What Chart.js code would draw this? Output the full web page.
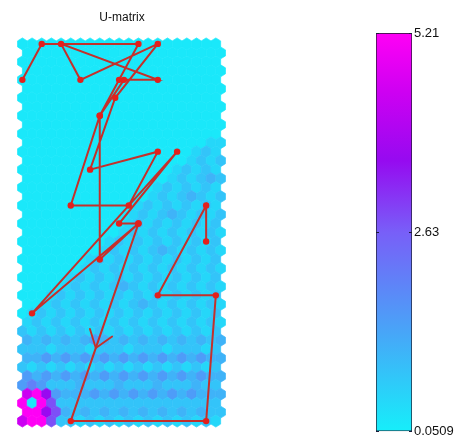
<!DOCTYPE html>
<html>
<head>
<meta charset="utf-8">
<script src="https://cdn.jsdelivr.net/npm/chart.js@4.4.1/dist/chart.umd.min.js"></script>
<style>
  html, body { margin: 0; padding: 0; background: #ffffff; }
  #wrap { position: relative; width: 473px; height: 441px; overflow: hidden; background: #ffffff; }
  #mapBox { position: absolute; left: 0; top: 0; width: 244px; height: 441px; }
  #barBox { position: absolute; left: 330px; top: 0; width: 143px; height: 441px; }
</style>
</head>
<body>
<div id="wrap">
  <div id="mapBox"><canvas id="map" width="244" height="441"></canvas></div>
  <div id="barBox"><canvas id="bar" width="143" height="441"></canvas></div>
</div>
<script>
// U-matrix distance levels; each digit in umatRows picks one of these values
const umatLevelValues = [0.15, 0.45, 0.8, 1.1, 1.5, 2.0, 2.8, 3.6, 4.4, 5.2];

// U-matrix rows (43 rows x 21 columns), written in groups of 7 columns
const umatRows = [
  "0000000 0000000 0000000",
  "0000000 0000000 0000000",
  "0000000 0000000 0000000",
  "0000000 0000000 0000000",
  "0000000 0000000 0000000",
  "0000000 0000000 0000000",
  "0000000 0000000 0000000",
  "0000000 0000000 0000000",
  "0000000 0000000 0000000",
  "0000000 0000000 0000000",
  "0000000 0000000 0000000",
  "0000000 0000000 0000011",
  "0000000 0000000 0000121",
  "0000000 0000000 0001212",
  "0000000 0000000 0012121",
  "0000000 0000000 0121232",
  "0000000 0000000 1212121",
  "0000000 0000001 2123212",
  "0000000 0000012 1212121",
  "0000000 0000121 2321212",
  "0000000 0000121 2121212",
  "0000000 0001212 1212121",
  "0000000 0012121 2121212",
  "0000000 0121212 3212121",
  "0000000 1212121 2121212",
  "0000001 2121212 1212121",
  "0000012 1212121 2121212",
  "0000121 2123212 1212121",
  "0001212 1212121 2121212",
  "0012121 2121232 1212121",
  "0121212 1212121 2121212",
  "1212121 2121212 1212121",
  "2121212 1212121 2121212",
  "3232323 4323232 3232323",
  "2221222 1222122 2122212",
  "3343434 3434343 4343433",
  "2121212 1212121 2121212",
  "4343434 3434343 4343433",
  "4542223 2223222 3222322",
  "8974333 4343434 3434333",
  "9096222 2222222 2222222",
  "9976323 2323232 3232322",
  "8996221 2121212 1212121"
];

// Trajectory of best-matching units, in map coordinates (column, row)
const trajX = [0, 1, 6, 5, 4, 2.5, 5.5, 7, 3.5, 4.8, 7, 3, 2, 7, 5.25, 4, 4, 6, 5, 8, 0.5, 6, 2.5, 9.5, 10, 7, 9.5, 9.5];
const trajY = [2, 0, 0, 2, 4, 9, 9, 6, 7, 3, 0, 2, 0, 2, 2, 4, 12, 10, 10, 6, 15, 10, 21, 21, 14, 14, 9, 11];
// segment (start index) that carries the direction arrow
const arrowSegment = 21;

// Colour bar range and labels
const colorbarMin = 0.0509;
const colorbarMax = 5.21;
const colorbarTicks = [0.0509, 2.63, 5.21];
const colorbarTickLabels = ["0.0509", "2.63", "5.21"];

// Colormap stops: position (0..1) and RGB
const cmapStops = [
  [0.00, [22, 238, 250]],
  [0.25, [72, 165, 248]],
  [0.50, [120, 95, 248]],
  [0.68, [150, 10, 240]],
  [0.85, [205, 0, 242]],
  [1.00, [255, 0, 245]]
];

const FONT = "'Liberation Sans', Arial, Helvetica, sans-serif";
const LINE_COLOR = "#c4302b";
const POINT_COLOR = "#e3201c";

function cmapColor(v) {
  let f = (v - colorbarMin) / (colorbarMax - colorbarMin);
  f = Math.max(0, Math.min(1, f));
  for (let i = 1; i < cmapStops.length; i++) {
    const [p1, c1] = cmapStops[i];
    const [p0, c0] = cmapStops[i - 1];
    if (f <= p1) {
      const t = (f - p0) / (p1 - p0);
      const c = c0.map((a, k) => Math.round(a + (c1[k] - a) * t));
      return `rgb(${c[0]},${c[1]},${c[2]})`;
    }
  }
  const last = cmapStops[cmapStops.length - 1][1];
  return `rgb(${last[0]},${last[1]},${last[2]})`;
}

// numeric table built from the level strings
const umatValues = umatRows.map(row =>
  row.replace(/\s+/g, "").split("").map(ch => umatLevelValues[Number(ch)])
);

// Hexagonal U-matrix cells: odd U-rows are shifted by half a cell
const hexPlugin = {
  id: "umatHex",
  beforeDatasetsDraw(chart) {
    const { ctx } = chart;
    const xs = chart.scales.x, ys = chart.scales.y;
    const hw = 0.25, hh = 1 / 3;
    ctx.save();
    umatValues.forEach((row, r) => {
      row.forEach((v, c) => {
        const cx = c / 2 + (r % 2 ? 0.25 : 0);
        const cy = r / 2;
        const pts = [
          [cx, cy - hh], [cx + hw, cy - hh / 2], [cx + hw, cy + hh / 2],
          [cx, cy + hh], [cx - hw, cy + hh / 2], [cx - hw, cy - hh / 2]
        ];
        ctx.beginPath();
        pts.forEach(([px, py], k) => {
          const X = xs.getPixelForValue(px), Y = ys.getPixelForValue(py);
          if (k === 0) ctx.moveTo(X, Y); else ctx.lineTo(X, Y);
        });
        ctx.closePath();
        const col = cmapColor(v);
        ctx.fillStyle = col;
        ctx.strokeStyle = col;
        ctx.lineWidth = 0.7;
        ctx.fill();
        ctx.stroke();
      });
    });
    ctx.restore();
  }
};

// Arrow head on one trajectory segment showing the direction of travel
const arrowPlugin = {
  id: "trajArrow",
  afterDatasetsDraw(chart) {
    const { ctx } = chart;
    const xs = chart.scales.x, ys = chart.scales.y;
    const i = arrowSegment;
    const x0 = xs.getPixelForValue(trajX[i]), y0 = ys.getPixelForValue(trajY[i]);
    const x1 = xs.getPixelForValue(trajX[i + 1]), y1 = ys.getPixelForValue(trajY[i + 1]);
    const t = 0.63;
    const tx = x0 + (x1 - x0) * t, ty = y0 + (y1 - y0) * t;
    const back = Math.atan2(y0 - y1, x0 - x1);
    const len = 20, spread = 36 * Math.PI / 180;
    ctx.save();
    ctx.strokeStyle = LINE_COLOR;
    ctx.lineWidth = 1.8;
    ctx.lineCap = "round";
    ctx.beginPath();
    ctx.moveTo(tx + len * Math.cos(back - spread), ty + len * Math.sin(back - spread));
    ctx.lineTo(tx, ty);
    ctx.lineTo(tx + len * Math.cos(back + spread), ty + len * Math.sin(back + spread));
    ctx.stroke();
    ctx.restore();
  }
};

new Chart(document.getElementById("map"), {
  type: "scatter",
  data: {
    datasets: [{
      data: trajX.map((v, i) => ({ x: v, y: trajY[i] })),
      showLine: true,
      borderColor: LINE_COLOR,
      borderWidth: 2,
      tension: 0,
      pointRadius: 3.2,
      pointBackgroundColor: POINT_COLOR,
      pointBorderColor: POINT_COLOR,
      pointBorderWidth: 0,
      clip: false
    }]
  },
  options: {
    responsive: false,
    animation: false,
    devicePixelRatio: 1,
    layout: { padding: 0 },
    plugins: {
      legend: { display: false },
      tooltip: { enabled: false },
      title: {
        display: true,
        text: "U-matrix",
        color: "#111",
        font: { family: FONT, size: 12, weight: "normal" },
        padding: { top: 10, bottom: 10 }
      }
    },
    scales: {
      x: { type: "linear", display: false, bounds: "data", min: -0.95, max: 11.25 },
      y: { type: "linear", display: false, bounds: "data", reverse: true, min: -0.5292, max: 21.8854 }
    }
  },
  plugins: [hexPlugin, arrowPlugin]
});

// Colour bar: one floating bar spanning the value range, filled with the colormap
const innerTicks = {
  id: "innerTicks",
  afterDraw(chart) {
    const { ctx, chartArea } = chart;
    const ys = chart.scales.y;
    ctx.save();
    ctx.strokeStyle = "#1a1a3a";
    ctx.lineWidth = 1;
    colorbarTicks.forEach(v => {
      const y = Math.round(ys.getPixelForValue(v)) + 0.5;
      ctx.beginPath();
      ctx.moveTo(chartArea.left, y); ctx.lineTo(chartArea.left + 3, y);
      ctx.moveTo(chartArea.right - 3, y); ctx.lineTo(chartArea.right, y);
      ctx.stroke();
    });
    ctx.restore();
  }
};

new Chart(document.getElementById("bar"), {
  type: "bar",
  data: {
    labels: [""],
    datasets: [{
      data: [[colorbarMin, colorbarMax]],
      backgroundColor(context) {
        const { chart } = context;
        const area = chart.chartArea;
        if (!area) return cmapColor(colorbarMin);
        const g = chart.ctx.createLinearGradient(0, area.bottom, 0, area.top);
        cmapStops.forEach(([p]) => {
          g.addColorStop(p, cmapColor(colorbarMin + p * (colorbarMax - colorbarMin)));
        });
        return g;
      },
      borderColor: "#1a1a2a",
      borderWidth: 1,
      borderSkipped: false,
      barPercentage: 1,
      categoryPercentage: 1
    }]
  },
  options: {
    responsive: false,
    animation: false,
    devicePixelRatio: 1,
    layout: { padding: { left: 46, top: 33, bottom: 4, right: 0 } },
    plugins: { legend: { display: false }, tooltip: { enabled: false } },
    scales: {
      x: { display: false },
      y: {
        position: "right",
        min: colorbarMin,
        max: colorbarMax,
        afterBuildTicks(scale) { scale.ticks = colorbarTicks.map(v => ({ value: v })); },
        afterFit(scale) { scale.width = 61; },
        grid: { drawOnChartArea: false, drawTicks: false },
        border: { display: false },
        ticks: {
          padding: 2,
          color: "#111",
          font: { family: FONT, size: 13 },
          callback(value, index) { return colorbarTickLabels[index]; }
        }
      }
    }
  },
  plugins: [innerTicks]
});
</script>
</body>
</html>
